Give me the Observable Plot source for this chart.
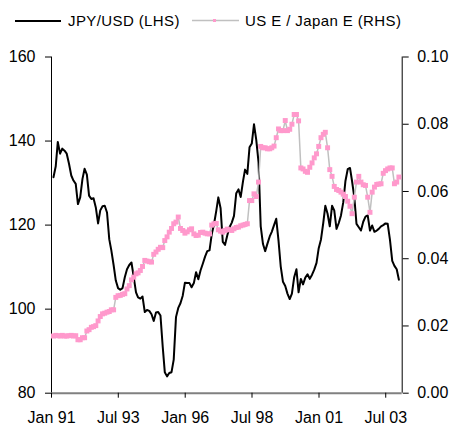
<!DOCTYPE html>
<html><head><meta charset="utf-8">
<script src="https://cdn.jsdelivr.net/npm/d3@7"></script>
<script src="https://cdn.jsdelivr.net/npm/@observablehq/plot@0.6"></script>
<style>
body{margin:0;background:#fff;font-family:"Liberation Sans",Arial,sans-serif;}
#wrap{position:relative;width:453px;height:426px;overflow:hidden;}
#legend{position:absolute;left:0;top:0;width:453px;height:40px;}
.lt{position:absolute;font-size:15px;line-height:15px;letter-spacing:0.4px;color:#000;white-space:nowrap;}
#chart{position:absolute;left:0;top:40px;}
</style></head><body>
<div id="wrap">
  <div id="legend"></div>
  <div id="chart"></div>
</div>
<script>
// Series names
const seriesNames = ["JPY/USD (LHS)", "US E / Japan E (RHS)"];

// JPY/USD monthly, Jan 1991 - Dec 2003 (left axis)
const jpy = [
  131.4,134,139.8,137,138.2,137.7,137,134.6,131.8,130.6,
  129.8,125,126.6,131,133.4,132,127,126.2,126.4,124.2,
  120.4,123.5,124.5,124.6,123,116.6,114,110.5,106.8,105,
  104.6,105,107.6,109.5,110.5,111.1,107.6,104,102.8,102.5,
  103,99.3,99.8,99.6,98.8,97.2,99.2,99.3,98.5,91,
  85,84,84.8,85,88,98.1,100.3,101.4,103.2,106.3,
  106.2,106.2,105.2,106.2,108.8,107.1,109.2,110.8,112.5,113.8,
  114,117.8,120.2,123.4,126.6,124,116,115.3,117.5,119.5,
  120.6,122.2,127.6,128.5,126.7,130.4,133.2,132.2,138.5,139.4,
  144,140.3,135,119.7,115.5,113.8,115.6,117.3,118.4,120,
  121.5,116.3,110.2,106.5,105.5,103.7,102.4,103.7,107.6,109.5,
  104,107.2,105.9,107.5,108.3,107.2,108.2,109.4,111,114.5,
  116.6,120.5,124.6,122.7,119.7,124.6,123.5,119.1,120.5,122.3,
  125.4,130.5,133.3,133.6,130.5,126.6,120.3,119.5,118.7,120.8,
  122,122.3,118.7,119.9,118.4,118.7,119.1,119.7,120,120.4,
  120.3,116.5,111.5,110.3,109.5,107
];

// US E / Japan E monthly, Jan 1991 - Dec 2003 (right axis)
const ratio = [
  0.0170,0.0172,0.0171,0.0170,0.0172,0.0170,0.0170,0.0171,0.0172,0.0170,0.0171,
  0.0159,0.0159,0.0165,0.0165,0.0185,0.0189,0.0196,0.0198,0.0201,
  0.0215,0.0228,0.0236,0.0238,0.0241,0.0243,0.0248,0.0248,
  0.0285,0.0290,0.0291,0.0294,0.0296,0.0310,0.0320,0.0337,0.0345,0.0355,0.0358,0.0365,
  0.0377,0.0395,0.0393,0.0391,0.0390,0.0413,0.0420,0.0428,0.0434,0.0433,
  0.0454,0.0465,0.0479,0.0490,0.0504,0.0509,0.0524,0.0490,0.0484,0.0476,
  0.0480,0.0486,0.0489,0.0474,0.0469,0.0470,0.0478,0.0479,0.0476,0.0474,
  0.0474,0.0500,0.0504,0.0505,0.0486,0.0482,0.0479,0.0484,0.0488,0.0486,
  0.0484,0.0489,0.0493,0.0494,0.0498,0.0500,0.0502,0.0504,0.0573,0.0573,
  0.0593,0.0585,0.0628,0.0734,0.0730,0.0730,0.0727,0.0727,0.0730,0.0735,
  0.0760,0.0786,0.0781,0.0781,0.0811,0.0781,0.0785,0.0800,0.0829,0.0829,
  0.0810,0.0670,0.0667,0.0660,0.0657,0.0672,0.0685,0.0700,0.0712,0.0734,
  0.0760,0.0770,0.0776,0.0730,0.0665,0.0645,0.0615,0.0606,0.0603,0.0598,
  0.0592,0.0585,0.0571,0.0556,0.0534,0.0583,0.0628,0.0645,0.0628,0.0620,
  0.0618,0.0583,0.0538,0.0598,0.0613,0.0621,0.0622,0.0623,0.0654,0.0662,
  0.0667,0.0670,0.0670,0.0623,0.0628,0.0643
];

// Tick values / labels
const xTickDates = ["1991-01-01","1993-07-01","1996-01-01","1998-07-01","2001-01-01","2003-07-01"];
const leftTicks = [80, 100, 120, 140, 160];
const rightTicks = [0.00, 0.02, 0.04, 0.06, 0.08, 0.10];

// Build table (observations at month end)
const data = jpy.map((v, i) => ({
  date: new Date(Date.UTC(1991, i, 28)),
  jpy: v,
  ratio: ratio[i]
}));

// secondary axis mapping: 0.00..0.10 -> 80..160
const rMin = 0, rMax = 0.10, lMin = 80, lMax = 160;
const toLeft = r => lMin + (r - rMin) / (rMax - rMin) * (lMax - lMin);

const xDomain = [new Date(Date.UTC(1991, 0, 1)), new Date(Date.UTC(2004, 1, 11))];
const fmt = d3.utcFormat("%b %y");

const chart = Plot.plot({
  width: 453,
  height: 386,
  marginTop: 16.5,
  marginBottom: 33.3,
  marginLeft: 51,
  marginRight: 51.3,
  style: {fontFamily: "'Liberation Sans', Arial, sans-serif", fontSize: "16px", color: "#000", background: "#fff", overflow: "visible"},
  x: {type: "utc", domain: xDomain},
  y: {domain: [lMin, lMax]},
  marks: [
    Plot.ruleX([xDomain[0]], {stroke: "#000", strokeWidth: 1}),
    Plot.ruleX([xDomain[1]], {stroke: "#000", strokeWidth: 1}),
    Plot.ruleY([lMin], {stroke: "#808080", strokeWidth: 2}),
    Plot.axisY(leftTicks, {anchor: "left", tickSize: 6, tickPadding: 10, label: null, fontSize: 16}),
    Plot.axisY(rightTicks.map(toLeft), {anchor: "right", tickSize: 6, tickPadding: 9, label: null, fontSize: 16,
      tickFormat: d => ((d - lMin) / (lMax - lMin) * (rMax - rMin) + rMin).toFixed(2)}),
    Plot.axisX(xTickDates.map(s => new Date(s)), {anchor: "bottom", tickSize: 5, tickPadding: 13, label: null, fontSize: 16, tickFormat: fmt}),
    Plot.line(data, {x: "date", y: "jpy", stroke: "#000", strokeWidth: 2}),
    Plot.line(data, {x: "date", y: d => toLeft(d.ratio), stroke: "#c0c0c0", strokeWidth: 1.5}),
    Plot.dot(data, {x: "date", y: d => toLeft(d.ratio), symbol: "square", r: 2.8, fill: "#ff99cc", stroke: "none"})
  ]
});
document.getElementById("chart").appendChild(chart);

// Legend
const legend = document.getElementById("legend");
legend.innerHTML = `
<svg width="453" height="40" style="position:absolute;left:0;top:0">
  <line x1="15" y1="21" x2="61" y2="21" stroke="#000" stroke-width="2"/>
  <line x1="192" y1="20.5" x2="239" y2="20.5" stroke="#c0c0c0" stroke-width="1.5"/>
  <rect x="213" y="19" width="3" height="3" fill="#ff99cc"/>
</svg>`;
const t1 = document.createElement("span");
t1.className = "lt"; t1.style.left = "68px"; t1.style.top = "13px"; t1.textContent = seriesNames[0];
const t2 = document.createElement("span");
t2.className = "lt"; t2.style.left = "245px"; t2.style.top = "13px"; t2.textContent = seriesNames[1];
legend.appendChild(t1); legend.appendChild(t2);
</script>
</body></html>
